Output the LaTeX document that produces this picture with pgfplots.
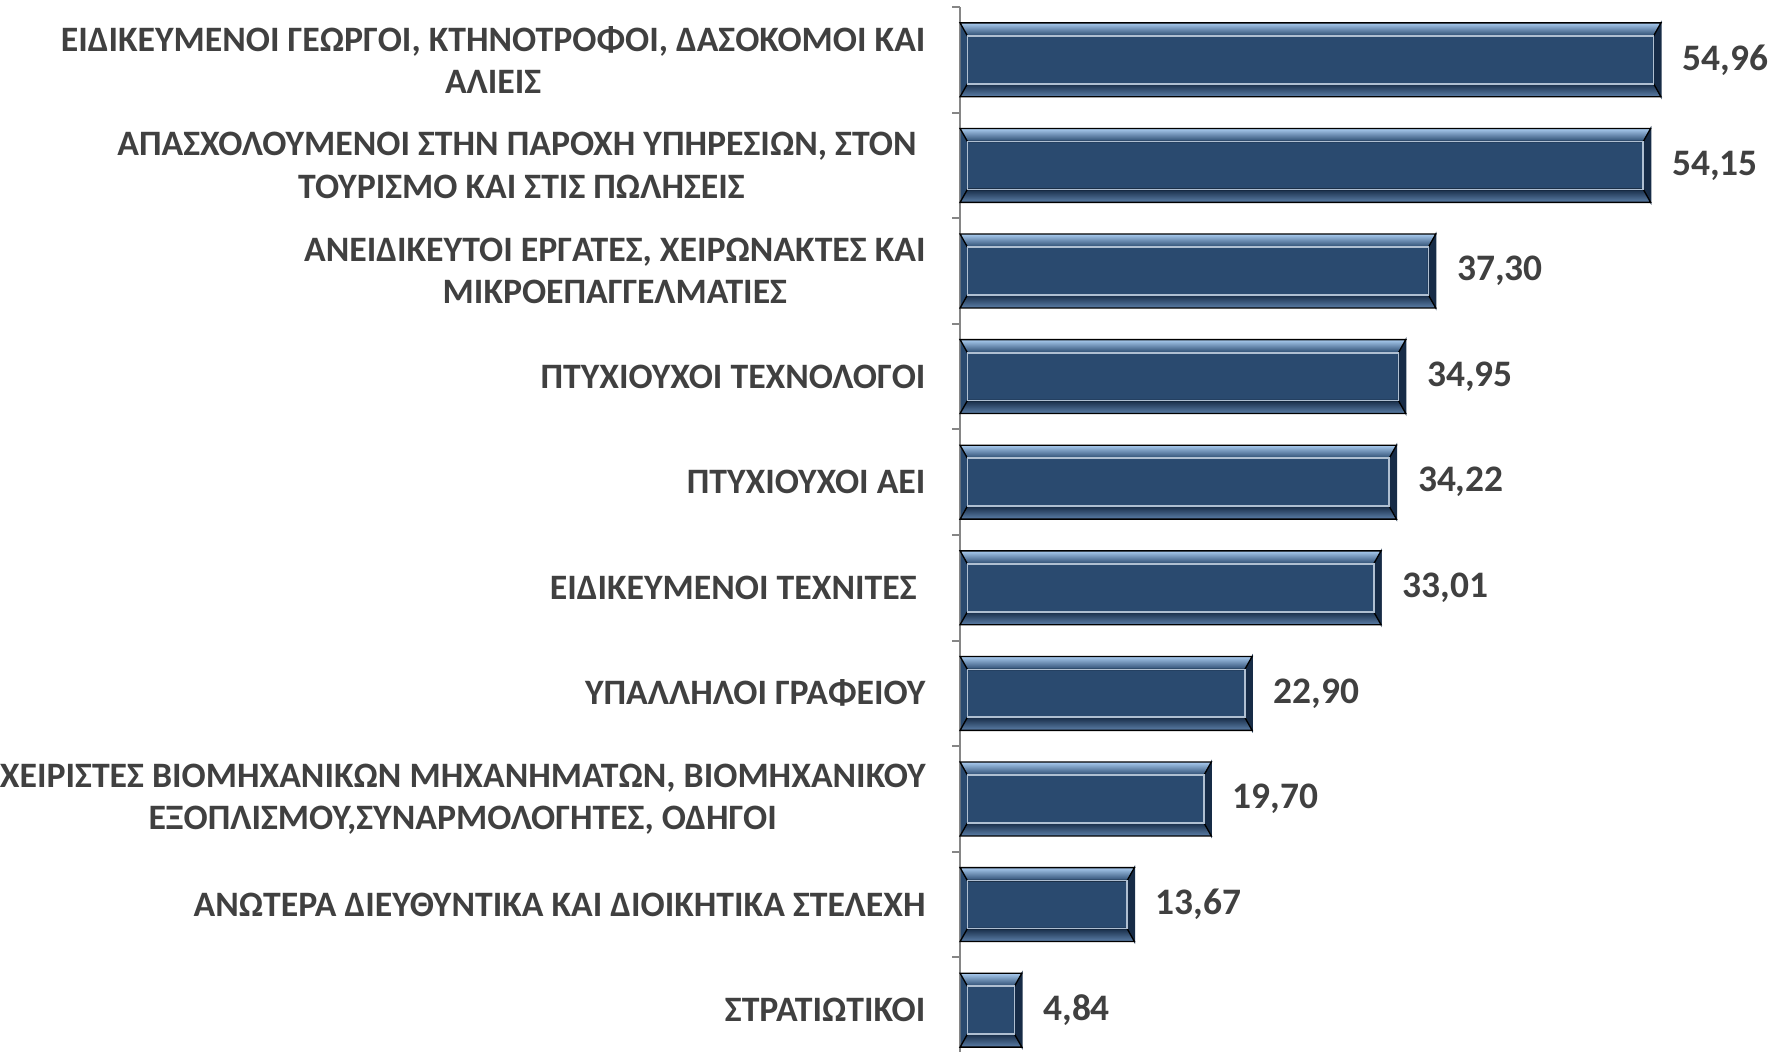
\documentclass[border=0pt]{standalone}
\usepackage{fontspec}
\setmainfont{Carlito}
\usepackage{pgfplots}
\usepackage{pgfplotstable}
\pgfplotsset{compat=1.18}

\definecolor{barnavy}{HTML}{2A4A6F}
\definecolor{bartop}{HTML}{A9CBEF}
\definecolor{barright}{HTML}{172C47}
\definecolor{barbottom}{HTML}{5C7FA8}
\definecolor{barinner}{HTML}{AFBFD1}
\definecolor{labgray}{HTML}{404040}
\definecolor{axisgray}{HTML}{868686}

\pgfplotstableread{
val  pos
54.96 0
54.15 1
37.30 2
34.95 3
34.22 4
33.01 5
22.90 6
19.70 7
13.67 8
4.84  9
}\shares

% x unit 248.1pt/65, half bar height 0.35*312.9pt/9.9
\def\xunit{3.81692}
\def\hh{11.06pt}
\def\dx{2.2pt}
\def\dy{3.9pt}

\begin{document}
\begin{tikzpicture}
\begin{axis}[
  y dir=reverse,
  scale only axis,
  width=248.1pt,
  height=312.9pt,
  xmin=0, xmax=65,
  ymin=-0.5, ymax=9.4,
  axis x line=none,
  axis y line*=left,
  y axis line style={axisgray, line width=0.6pt},
  ytick={0,...,9},
  major tick length=0pt,
  minor ytick={-0.5,0.5,...,8.5},
  minor tick length=2.4pt,
  tick align=outside,
  minor tick style={axisgray, line width=0.6pt},
  yticklabel style={align=center, inner sep=0pt, xshift=-10.2pt,
    font=\bfseries\fontsize{10.7}{12.7}\selectfont, text=labgray},
  yticklabels={
    {ΕΙΔΙΚΕΥΜΕΝΟΙ ΓΕΩΡΓΟΙ, ΚΤΗΝΟΤΡΟΦΟΙ, ΔΑΣΟΚΟΜΟΙ ΚΑΙ\\ΑΛΙΕΙΣ},
    {ΑΠΑΣΧΟΛΟΥΜΕΝΟΙ ΣΤΗΝ ΠΑΡΟΧΗ ΥΠΗΡΕΣΙΩΝ, ΣΤΟΝ\kern0.25em\\ΤΟΥΡΙΣΜΟ ΚΑΙ ΣΤΙΣ ΠΩΛΗΣΕΙΣ},
    {ΑΝΕΙΔΙΚΕΥΤΟΙ ΕΡΓΑΤΕΣ, ΧΕΙΡΩΝΑΚΤΕΣ ΚΑΙ\\ΜΙΚΡΟΕΠΑΓΓΕΛΜΑΤΙΕΣ},
    {ΠΤΥΧΙΟΥΧΟΙ ΤΕΧΝΟΛΟΓΟΙ},
    {ΠΤΥΧΙΟΥΧΟΙ ΑΕΙ},
    {ΕΙΔΙΚΕΥΜΕΝΟΙ ΤΕΧΝΙΤΕΣ\kern0.25em},
    {ΥΠΑΛΛΗΛΟΙ ΓΡΑΦΕΙΟΥ},
    {ΧΕΙΡΙΣΤΕΣ ΒΙΟΜΗΧΑΝΙΚΩΝ ΜΗΧΑΝΗΜΑΤΩΝ, ΒΙΟΜΗΧΑΝΙΚΟΥ\\ΕΞΟΠΛΙΣΜΟΥ,ΣΥΝΑΡΜΟΛΟΓΗΤΕΣ, ΟΔΗΓΟΙ},
    {ΑΝΩΤΕΡΑ ΔΙΕΥΘΥΝΤΙΚΑ ΚΑΙ ΔΙΟΙΚΗΤΙΚΑ ΣΤΕΛΕΧΗ},
    {ΣΤΡΑΤΙΩΤΙΚΟΙ}},
  clip=false,
]
% plain bars with their value labels
\addplot[xbar, bar width=0.70, fill=barnavy, draw=axisgray!60!barnavy, line width=0.3pt,
  nodes near coords={\pgfmathprintnumber{\pgfplotspointmeta}},
  point meta=x,
  nodes near coords style={/pgf/number format/fixed, /pgf/number format/fixed zerofill,
    /pgf/number format/precision=2, /pgf/number format/use comma,
    /pgf/number format/assume math mode=true},
  every node near coord/.append style={anchor=west, inner sep=0pt, xshift=6.3pt,
    font=\bfseries\fontsize{11.2}{13}\selectfont, text=labgray}]
  table[x=val, y=pos] {\shares};
% bevel details, drawn from each bar's end point back to the axis
\addplot[only marks, scatter, mark=*, mark size=0pt,
  mark options={draw=none, fill=none},
  visualization depends on={rawx \as \xval},
  scatter/@pre marker code/.code={%
    \pgfmathsetlengthmacro\L{\xval*\xunit pt}%
    \begin{scope}
    \fill[barright] (0pt,-\hh) -- (0pt,\hh) -- (-\dx,\hh-\dy) -- (-\dx,-\hh+\dy) -- cycle;
    \shade[top color=bartop, bottom color=barnavy]
      (-\L,\hh) -- (0pt,\hh) -- (-\dx,\hh-\dy) -- (-\L+\dx,\hh-\dy) -- cycle;
    \shade[top color=barright, bottom color=barbottom]
      (-\L,-\hh) -- (0pt,-\hh) -- (-\dx,-\hh+\dy) -- (-\L+\dx,-\hh+\dy) -- cycle;
    \draw[barinner, line width=0.5pt] (-\L+\dx,-\hh+\dy) rectangle (-\dx,\hh-\dy);
  },
  scatter/@post marker code/.code={\end{scope}}]
  table[x=val, y=pos] {\shares};
\end{axis}
\path ([yshift=2.1pt]current axis.north east) (current axis.south east);
\end{tikzpicture}
\end{document}
